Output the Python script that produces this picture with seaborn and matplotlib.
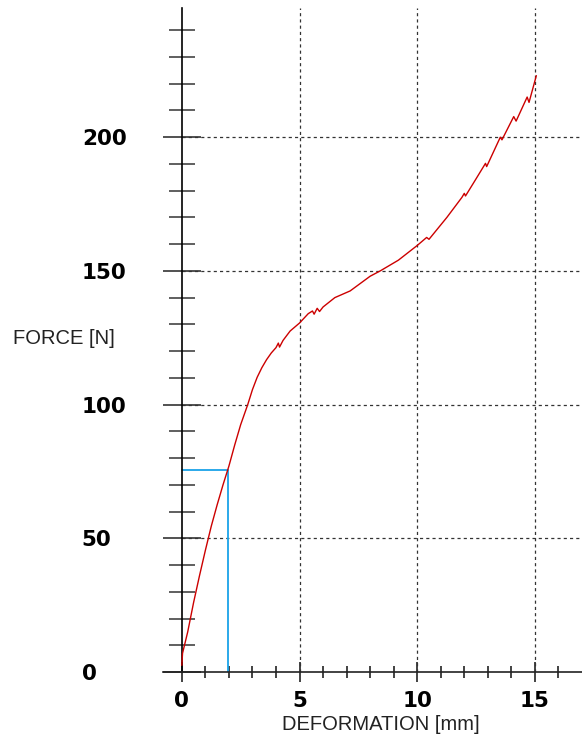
import matplotlib
matplotlib.use("Agg")
import matplotlib.pyplot as plt
import seaborn as sns
import pandas as pd

# ---- data ----
deformation = [0.00, 0.03, 0.25, 0.50, 0.75, 1.00, 1.25, 1.50, 1.75, 2.00, 2.25,
               2.50, 2.80, 3.00, 3.20, 3.40, 3.60, 3.80, 4.00, 4.10, 4.15, 4.30,
               4.60, 5.00, 5.37, 5.55, 5.62, 5.75, 5.85, 6.00, 6.50, 7.15, 8.00,
               8.43, 9.20, 10.00, 10.40, 10.50, 11.26, 11.90, 12.00, 12.05, 12.47,
               12.90, 12.95, 13.53, 13.60, 14.10, 14.20, 14.67, 14.75, 15.06]
force = [2.5, 7.0, 15.0, 26.0, 36.0, 45.5, 54.5, 62.5, 70.0, 77.0, 85.0,
         92.5, 100.0, 105.6, 110.2, 113.8, 116.8, 119.3, 121.3, 123.0, 121.5, 124.0,
         127.5, 130.5, 134.0, 135.0, 133.8, 136.0, 134.8, 136.5, 140.0, 142.5, 148.0,
         150.0, 154.0, 159.5, 162.5, 161.8, 170.0, 177.5, 179.0, 178.0, 184.0,
         190.2, 189.0, 200.0, 199.0, 207.7, 206.0, 215.0, 213.0, 223.0]
marker_x = 1.97      # blue reference line
marker_force = 75.5
x_major = [0, 5, 10, 15]
x_minor = list(range(1, 17))
y_major = [0, 50, 100, 150, 200]
y_minor = [v for v in range(10, 250, 10) if v % 50 != 0]
x_label = "DEFORMATION [mm]"
y_label = "FORCE [N]"

df = pd.DataFrame({"deformation": deformation, "force": force})

sns.set_theme(style="white")
plt.rcParams["font.family"] = ["DejaVu Sans"]

DPI = 100
fig = plt.figure(figsize=(5.82, 7.37), dpi=DPI)
ax = fig.add_axes([163 / 582, 65 / 737, 419 / 582, 664 / 737])

def pt(px):
    return px * 72.0 / DPI

# grid (dashed)
for xv in x_major[1:]:
    ax.plot([xv, xv], [0, 248.3], color="#333333", lw=0.9,
            ls=(0, (2.5, 2.5)), zorder=1)
for yv in y_major[1:]:
    ax.plot([0, 17], [yv, yv], color="#333333", lw=0.9,
            ls=(0, (2.5, 2.5)), zorder=1)

# blue marker lines
ax.plot([marker_x, marker_x], [0, marker_force], color="#1aa3e8", lw=1.3, zorder=2)
ax.plot([0, marker_x], [marker_force, marker_force], color="#1aa3e8", lw=1.3, zorder=2)

sns.lineplot(data=df, x="deformation", y="force", ax=ax, color="#cc0000",
             lw=1.0, estimator=None, sort=False, zorder=3)

ax.set_xlim(-0.8, 17.0)
ax.set_ylim(0, 248.3)

for s in ["top", "right"]:
    ax.spines[s].set_visible(False)
ax.spines["left"].set_position(("data", 0))
ax.spines["left"].set_color("black")
ax.spines["left"].set_linewidth(1.2)
ax.spines["bottom"].set_color("#222222")
ax.spines["bottom"].set_linewidth(1.2)

ax.set_xticks(x_major)
ax.set_xticks(x_minor, minor=True)
ax.set_yticks(y_major)
ax.set_yticks(y_minor, minor=True)
ax.set_xticklabels([str(v) for v in x_major], fontweight="bold")
ax.set_yticklabels([str(v) for v in y_major], fontweight="bold")

ax.tick_params(which="both", left=True, bottom=True, right=False, top=False)
ax.tick_params(axis="y", which="major", direction="inout", length=pt(38),
               width=1.2, color="#333333", pad=pt(81), labelsize=15.5,
               labelcolor="black")
ax.tick_params(axis="y", which="minor", direction="inout", length=pt(26),
               width=1.2, color="#444444")
ax.tick_params(axis="x", which="major", direction="inout", length=pt(20),
               width=1.2, color="#222222", pad=pt(9), labelsize=15.5,
               labelcolor="black")
ax.tick_params(axis="x", which="minor", direction="inout", length=pt(12),
               width=1.2, color="#222222")
for lab in ax.get_yticklabels():
    lab.set_horizontalalignment("left")

lab_font = {"family": ["Liberation Sans", "DejaVu Sans"], "size": 14.5, "color": "#222222"}
ax.set_xlabel(x_label, fontdict=lab_font)
ax.xaxis.set_label_coords(218 / 419, -53 / 664)
ax.xaxis.label.set_verticalalignment("center")
ax.xaxis.label.set_horizontalalignment("center")
ax.set_ylabel(y_label, fontdict=lab_font, rotation=0)
ax.yaxis.set_label_coords(-150 / 419, 334 / 664)
ax.yaxis.label.set_horizontalalignment("left")
ax.yaxis.label.set_verticalalignment("center")

ax.set_facecolor("white")
fig.patch.set_facecolor("white")
fig.savefig("out.png", dpi=DPI)
